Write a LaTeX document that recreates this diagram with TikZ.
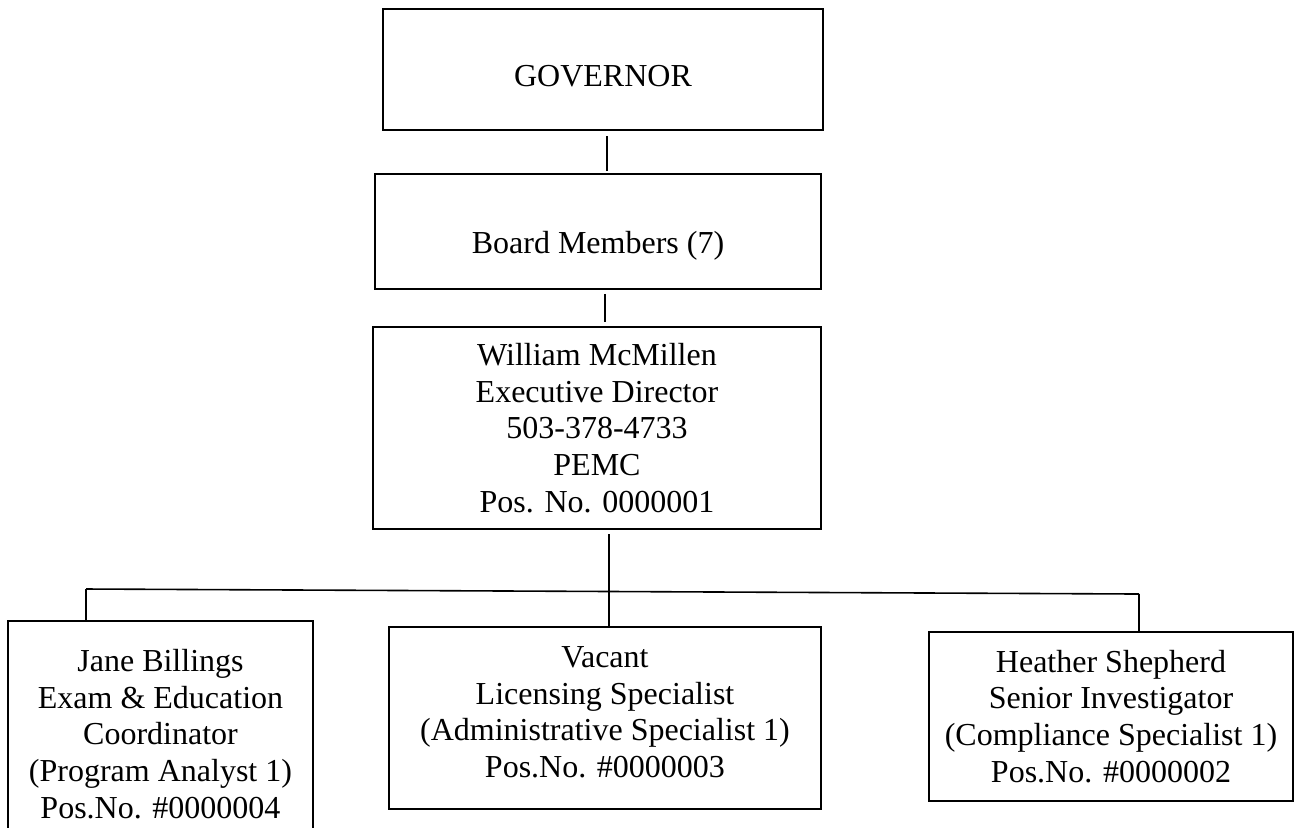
\documentclass[tikz,border=0pt]{standalone}
\usepackage{fontspec}
\setmainfont{Liberation Serif}
\usetikzlibrary{positioning}

\begin{document}
\begin{tikzpicture}[
  x=0.375pt, y=-0.375pt,
  box/.style={draw, rectangle, align=center, line width=0.75pt, inner sep=0pt,
    font=\fontsize{12}{13.8}\selectfont},
  link/.style={line width=0.6pt}
]
  \clip (0,0) rectangle (1295,827);

  \node[box, minimum width=165pt, minimum height=45.4pt, text height=13.1pt, text depth=0pt]
    (gov) at (603,69.5) {GOVERNOR};
  \node[box, minimum width=167.3pt, minimum height=43.1pt, text height=16.2pt, text depth=0pt]
    (board) at (598,231.5) {Board Members (7)};
  \node[box, minimum width=168pt, minimum height=75.75pt]
    (exec) at (597,428) {William McMillen\\Executive Director\\503-378-4733\\PEMC\\Pos. No. 0000001};

  \node[box, minimum width=114.4pt, minimum height=84.75pt]
    (jane) at (160.5,734) {Jane Billings\\Exam \& Education\\Coordinator\\(Program Analyst 1)\\Pos.No. \#0000004};
  \node[box, minimum width=162pt, minimum height=68.25pt, text depth=4.5pt]
    (vacant) at (605,718) {Vacant\\Licensing Specialist\\(Administrative Specialist 1)\\Pos.No. \#0000003};
  \node[box, minimum width=136.5pt, minimum height=63.4pt]
    (heather) at (1111,716.5) {Heather Shepherd\\Senior Investigator\\(Compliance Specialist 1)\\Pos.No. \#0000002};

  % bus between director and staff
  \coordinate (busL) at (86,589);
  \coordinate (busR) at (1139,594);
  \coordinate (trunk) at (609,0);

  \draw[link] ([xshift=1.5pt,yshift=-1.9pt]gov.south) -- ([xshift=1.5pt,yshift=0.75pt]gov.south |- board.north);
  \draw[link] ([xshift=2.6pt,yshift=-1.5pt]board.south) -- ([xshift=2.6pt,yshift=1.5pt]board.south |- exec.north);
  \draw[link] ([yshift=-1.5pt]exec.south -| trunk) -- (vacant.north -| trunk);
  \draw[link] (busL) -- (busR);
  \draw[link] (busL) -- (busL |- jane.north);
  \draw[link] (busR) -- (busR |- heather.north);
\end{tikzpicture}
\end{document}
